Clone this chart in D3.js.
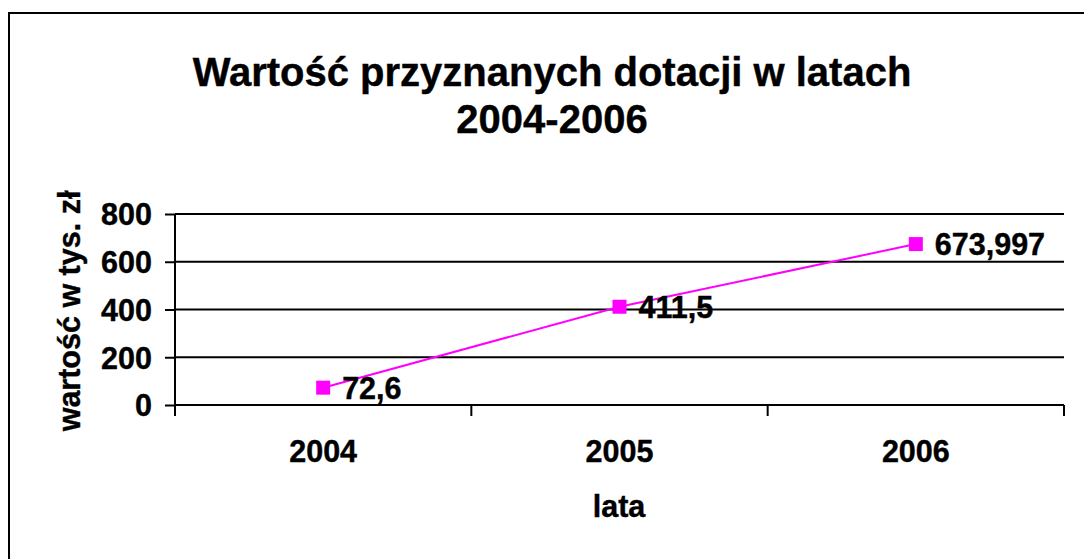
<!DOCTYPE html>
<meta charset="utf-8">

<script src="https://d3js.org/d3.v7.min.js"></script>

<style type="text/css">

body {
    margin: 0;
    background: #fff;
}

svg text {
    font-family: Arial, "Liberation Sans", sans-serif;
    font-weight: bold;
    fill: #000;
    stroke: #000;
    stroke-width: 0.4px;
}

.axis path {
    display: none;
}

.axis line {
    stroke: #000;
    stroke-width: 2px;
}

.axis text {
    font-size: 30.5px;
}

.grid line {
    stroke: #000;
    stroke-width: 2px;
}

</style>

<body>
</body>

<script>

// data
var years = ["2004", "2005", "2006"];
var values = [72.6, 411.5, 673.997];
var valueLabels = ["72,6", "411,5", "673,997"];
var yTicks = [0, 200, 400, 600, 800];

var width = 1084,
    height = 559;

var plot = {left: 175, right: 1064, top: 214, bottom: 405};

var svg = d3.select("body").append("svg")
    .attr("width", width)
    .attr("height", height);

// outer frame (right/bottom edges fall outside the picture)
svg.append("rect")
    .attr("x", 9)
    .attr("y", 13)
    .attr("width", 1090)
    .attr("height", 560)
    .style("fill", "none")
    .style("stroke", "#000")
    .style("stroke-width", 2);

// title
var title = svg.append("text")
    .attr("text-anchor", "middle")
    .style("font-size", "40px");

title.append("tspan")
    .attr("x", 552)
    .attr("y", 86)
    .text("Wartość przyznanych dotacji w latach");

title.append("tspan")
    .attr("x", 552)
    .attr("y", 133)
    .text("2004-2006");

var xScale = d3.scaleBand()
    .domain(years)
    .range([plot.left, plot.right])
    .padding(0);

var yScale = d3.scaleLinear()
    .domain([0, 800])
    .range([plot.bottom, plot.top]);

// horizontal gridlines
svg.append("g")
    .attr("class", "grid")
    .selectAll("line")
    .data(yTicks.filter(function(d) { return d > 0; }))
    .enter()
    .append("line")
    .attr("x1", plot.left)
    .attr("x2", plot.right)
    .attr("y1", function(d) { return yScale(d); })
    .attr("y2", function(d) { return yScale(d); });

// y axis
var yAxis = d3.axisLeft(yScale)
    .tickValues(yTicks)
    .tickSize(10)
    .tickPadding(13)
    .tickFormat(d3.format("d"));

var yAxisGroup = svg.append("g")
    .attr("class", "y axis")
    .attr("transform", "translate(" + plot.left + ",0)")
    .call(yAxis);

yAxisGroup.selectAll("text").attr("dy", "0.36em");

yAxisGroup.append("line")
    .attr("x1", 0).attr("x2", 0)
    .attr("y1", plot.top).attr("y2", plot.bottom);

// x axis: ticks sit on the category boundaries
var xAxisGroup = svg.append("g")
    .attr("class", "x axis")
    .attr("transform", "translate(0," + plot.bottom + ")");

xAxisGroup.append("line")
    .attr("x1", plot.left).attr("x2", plot.right)
    .attr("y1", 0).attr("y2", 0);

var boundaries = years.map(function(d) { return xScale(d); }).concat([plot.right]);

xAxisGroup.selectAll(".xtick")
    .data(boundaries)
    .enter()
    .append("line")
    .attr("class", "xtick")
    .attr("x1", function(d) { return d; })
    .attr("x2", function(d) { return d; })
    .attr("y1", 0)
    .attr("y2", 11);

xAxisGroup.selectAll(".xlabel")
    .data(years)
    .enter()
    .append("text")
    .attr("class", "xlabel")
    .attr("text-anchor", "middle")
    .attr("x", function(d) { return xScale(d) + xScale.bandwidth() / 2; })
    .attr("y", 57)
    .text(function(d) { return d; });

// axis titles
svg.append("text")
    .attr("text-anchor", "middle")
    .attr("x", 619)
    .attr("y", 517)
    .style("font-size", "30.5px")
    .text("lata");

svg.append("text")
    .attr("text-anchor", "middle")
    .attr("transform", "translate(80,311) rotate(-90)")
    .style("font-size", "30.5px")
    .text("wartość w tys. zł");

// series
var points = years.map(function(d, i) {
    return {year: d, value: values[i], label: valueLabels[i]};
});

var line = d3.line()
    .x(function(d) { return xScale(d.year) + xScale.bandwidth() / 2; })
    .y(function(d) { return yScale(d.value); });

svg.append("path")
    .datum(points)
    .attr("d", line)
    .style("fill", "none")
    .style("stroke", "#ff00ff")
    .style("stroke-width", 2);

var markerSize = 14;

svg.selectAll(".marker")
    .data(points)
    .enter()
    .append("rect")
    .attr("class", "marker")
    .attr("x", function(d) { return xScale(d.year) + xScale.bandwidth() / 2 - markerSize / 2; })
    .attr("y", function(d) { return yScale(d.value) - markerSize / 2; })
    .attr("width", markerSize)
    .attr("height", markerSize)
    .style("fill", "#ff00ff");

svg.selectAll(".valueLabel")
    .data(points)
    .enter()
    .append("text")
    .attr("class", "valueLabel")
    .attr("x", function(d) { return xScale(d.year) + xScale.bandwidth() / 2 + 19; })
    .attr("y", function(d) { return yScale(d.value) + 11; })
    .style("font-size", "30.5px")
    .text(function(d) { return d.label; });

</script>
